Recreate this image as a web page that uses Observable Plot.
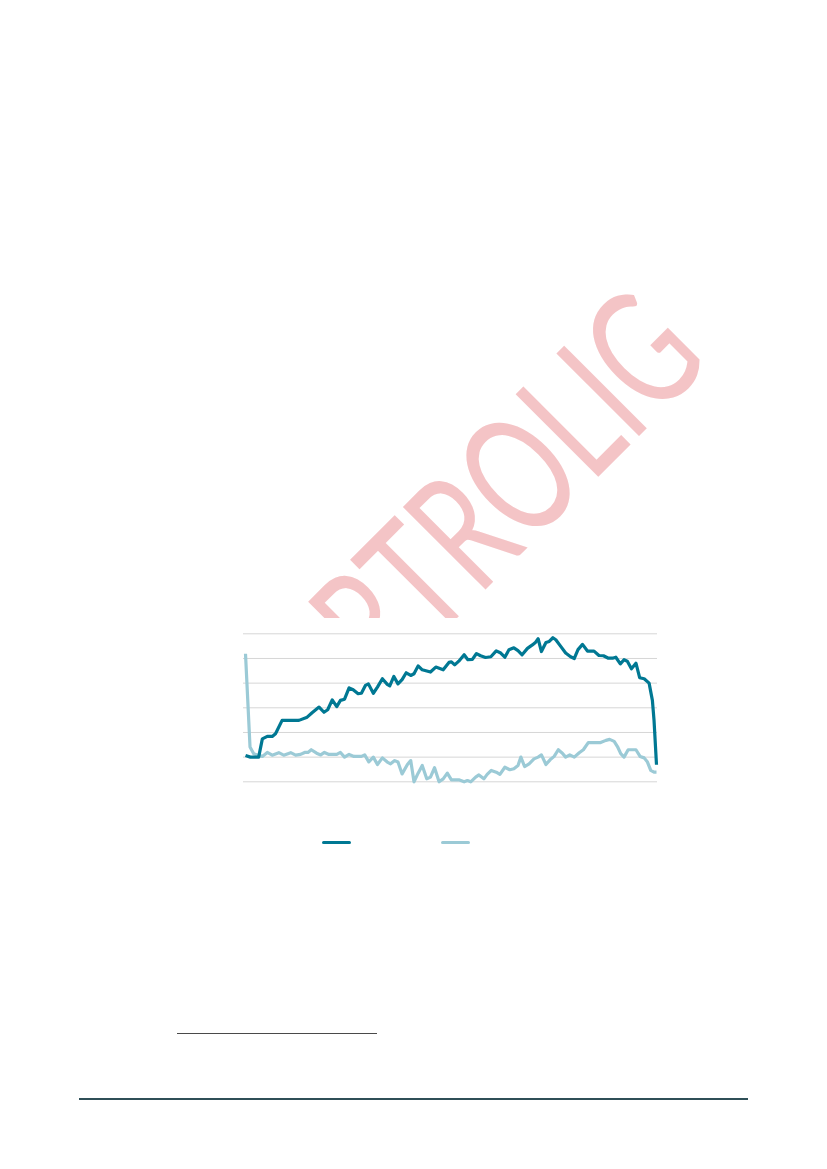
<!DOCTYPE html>
<html>
<head>
<meta charset="utf-8">
<script src="https://cdn.jsdelivr.net/npm/d3@7"></script>
<script src="https://cdn.jsdelivr.net/npm/@observablehq/plot@0.6"></script>
<style>
  html, body { margin: 0; padding: 0; background: #fff; }
  #page { position: relative; width: 827px; height: 1169px; overflow: hidden; background: #fff; }
  #wm { position: absolute; left: 0; top: 0; z-index: 0; }
  #chart { position: absolute; left: 0; top: 618px; width: 827px; height: 400px; background: #fff; z-index: 1; }
  #chart svg { display: block; }
  .sw { position: absolute; height: 3px; border-radius: 1.5px; }
  .rule { position: absolute; z-index: 2; }
</style>
</head>
<body>
<div id="page">
  <svg id="wm" width="827" height="1169">
    <text x="712" y="363" transform="rotate(-45 712 363)" text-anchor="end"
          textLength="617" lengthAdjust="spacingAndGlyphs"
          font-family="Lato, 'Open Sans', sans-serif" font-weight="400" font-size="163" fill="#f4c4c6">FORTROLIG</text>
  </svg>
  <div id="chart"></div>
  <div class="rule" style="left:177px; top:1032.5px; width:200px; height:1.2px; background:#4a4a4a;"></div>
  <div class="rule" style="left:79px; top:1098px; width:669px; height:2px; background:#2f4f57;"></div>
</div>
<script>
// Grid ticks (index units, no visible labels in the reference)
const yTicks = [0, 1, 2, 3, 4, 5, 6];

// Series 1 (dark teal): period index and value
const darkX = [0, 1.2, 3.2, 4.1, 5.3, 6.5, 7.3, 8.9, 13.0, 15.0, 16.2, 17.9, 19.1, 20.0, 21.1, 22.2, 23.1, 24.1, 25.2, 26.2, 27.4, 28.2, 29.2, 29.9, 31.1, 32.1, 33.3, 34.5, 35.1, 36.1, 37.1, 38.1, 39.1, 40.2, 41.0, 42.0, 43.0, 45.0, 46.3, 48.1, 49.5, 50.1, 50.9, 51.9, 53.2, 54.1, 55.2, 56.2, 57.2, 58.4, 59.7, 61.0, 62.1, 63.1, 64.1, 65.3, 66.3, 67.3, 68.6, 69.8, 70.6, 71.2, 72.0, 73.1, 73.9, 74.8, 75.5, 76.7, 77.9, 79.1, 80.0, 80.9, 82.0, 83.2, 84.8, 86.0, 87.1, 88.3, 89.3, 90.1, 91.2, 92.1, 92.9, 93.9, 95.0, 95.9, 97.0, 98.2, 99.0, 99.4, 100.0];
const darkY = [1.07, 1.0, 1.0, 1.74, 1.84, 1.84, 1.95, 2.49, 2.49, 2.62, 2.80, 3.03, 2.82, 2.92, 3.32, 3.05, 3.30, 3.35, 3.81, 3.73, 3.57, 3.59, 3.91, 3.97, 3.59, 3.84, 4.18, 3.95, 3.89, 4.27, 3.97, 4.14, 4.42, 4.31, 4.38, 4.70, 4.54, 4.45, 4.65, 4.54, 4.84, 4.86, 4.74, 4.89, 5.15, 4.95, 4.96, 5.20, 5.11, 5.04, 5.07, 5.31, 5.22, 5.05, 5.35, 5.43, 5.32, 5.15, 5.41, 5.55, 5.66, 5.80, 5.28, 5.65, 5.69, 5.84, 5.76, 5.49, 5.22, 5.07, 5.00, 5.36, 5.57, 5.30, 5.30, 5.12, 5.11, 5.01, 5.01, 5.05, 4.78, 4.95, 4.89, 4.58, 4.81, 4.22, 4.18, 4.00, 3.30, 2.49, 0.69];

// Series 2 (light blue): period index and value
const lightX = [0, 1.1, 2.0, 3.2, 4.1, 5.3, 6.5, 8.1, 9.3, 11.0, 12.2, 13.4, 14.4, 15.2, 16.0, 17.3, 18.3, 19.2, 20.3, 22.2, 23.1, 24.1, 25.2, 26.4, 28.2, 29.0, 30.0, 31.1, 32.1, 33.3, 34.5, 35.3, 36.3, 37.1, 38.1, 39.4, 40.2, 41.0, 42.0, 43.0, 44.1, 45.0, 46.0, 47.1, 48.1, 49.1, 50.1, 51.9, 53.2, 54.0, 54.8, 56.0, 56.8, 58.0, 58.8, 59.8, 61.0, 61.9, 63.1, 64.3, 65.3, 66.3, 67.0, 67.9, 69.0, 70.2, 71.2, 72.0, 73.1, 74.1, 75.1, 76.1, 77.1, 77.9, 78.9, 80.0, 81.2, 82.2, 83.4, 86.4, 87.7, 88.6, 89.7, 90.5, 91.3, 92.1, 93.1, 95.0, 96.0, 97.0, 97.8, 98.6, 99.4, 100.0];
const lightY = [5.19, 1.41, 1.14, 1.07, 1.03, 1.19, 1.08, 1.18, 1.08, 1.18, 1.08, 1.11, 1.19, 1.19, 1.30, 1.16, 1.09, 1.19, 1.11, 1.11, 1.19, 1.00, 1.11, 1.03, 1.03, 1.09, 0.81, 1.00, 0.70, 0.97, 0.80, 0.73, 0.86, 0.80, 0.32, 0.70, 0.86, 0.00, 0.35, 0.66, 0.12, 0.19, 0.57, 0.00, 0.12, 0.35, 0.08, 0.08, 0.00, 0.05, 0.00, 0.19, 0.28, 0.12, 0.30, 0.46, 0.39, 0.30, 0.59, 0.49, 0.53, 0.66, 1.00, 0.62, 0.73, 0.93, 1.00, 1.09, 0.70, 0.89, 1.03, 1.30, 1.16, 1.00, 1.09, 1.00, 1.18, 1.30, 1.59, 1.59, 1.68, 1.72, 1.64, 1.43, 1.14, 1.00, 1.30, 1.30, 1.03, 0.97, 0.80, 0.46, 0.39, 0.39];

const darkColor = "#007893";
const lightColor = "#9bcad6";

const dark = darkX.map((x, i) => ({x, y: darkY[i]}));
const light = lightX.map((x, i) => ({x, y: lightY[i]}));

const chart = Plot.plot({
  width: 827,
  height: 190,
  marginLeft: 243,
  marginRight: 170,
  marginTop: 15.3,
  marginBottom: 26.7,
  x: {domain: [0, 100], insetLeft: 2, insetRight: 1, axis: null},
  y: {domain: [0, 6], axis: null},
  marks: [
    Plot.ruleY(yTicks, {stroke: "#d6d6d6", strokeWidth: 1}),
    Plot.line(light, {x: "x", y: "y", stroke: lightColor, strokeWidth: 3.2, strokeLinejoin: "round", strokeLinecap: "butt"}),
    Plot.line(dark, {x: "x", y: "y", stroke: darkColor, strokeWidth: 3.2, strokeLinejoin: "round", strokeLinecap: "butt"})
  ]
});
const host = document.getElementById("chart");
host.appendChild(chart);

// Legend swatches below the SVG (no visible labels in the reference)
const legend = document.createElement("div");
legend.style.position = "absolute";
legend.style.left = "0"; legend.style.top = "0";
[[322, darkColor], [441, lightColor]].forEach(([left, c]) => {
  const s = document.createElement("span");
  s.className = "sw";
  s.style.left = left + "px";
  s.style.top = "222.8px";
  s.style.width = "29px";
  s.style.background = c;
  legend.appendChild(s);
});
host.appendChild(legend);
</script>
</body>
</html>
